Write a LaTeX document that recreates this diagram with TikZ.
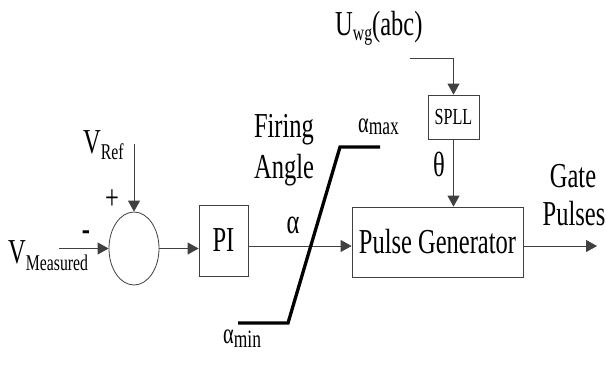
\documentclass[tikz,border=0pt]{standalone}
\usepackage{fontspec}
\setmainfont{Liberation Serif}[FakeStretch=0.70]
\usetikzlibrary{shapes.geometric,arrows.meta}
\newcommand\lsub[2][6]{\raisebox{-#1pt}{\fontsize{22.5}{24}\selectfont #2}}
\newcommand\bigtxt{\fontsize{35}{38}\selectfont}
\begin{document}
\begin{tikzpicture}[x=1pt,y=-1pt,
  every node/.style={font=\bigtxt, inner sep=0pt},
  blk/.style={draw=black!75, line width=0.8pt, rectangle},
  conn/.style={draw=black!75, line width=0.8pt},
  arr/.style={conn, -{Triangle[length=11pt,width=12pt]}},
  satline/.style={draw=black, line width=3.3pt}]
\useasboundingbox (0,0) rectangle (607,367);
% blocks
\node[ellipse, draw=black!75, line width=0.8pt, minimum width=50pt, minimum height=73pt] (sum) at (134,248.5) {};
\node[blk, minimum width=49pt, minimum height=71pt] (PI) at (223.5,240.5) {PI};
\node[blk, minimum width=171pt, minimum height=70pt] (PG) at (437.5,242) {Pulse Generator};
\node[blk, minimum width=51pt, minimum height=44pt] (SPLL) at (453.5,117) {\fontsize{23}{24}\selectfont SPLL};
% free ends
\coordinate (meas) at (59,248.5);
\coordinate (vref) at (134,144);
\coordinate (uin) at (410,58);
\coordinate (out) at (597,246);
% connectors
\draw[arr] (meas) -- (sum.west);
\draw[arr] (vref) -- (sum.north);
\draw[arr] (sum.east) -- (sum.east -| PI.west);
\draw[arr] (PI.east |- 0,246) -- (PG.west |- 0,246);
\draw[arr] (PG.east |- out) -- (out);
\draw[arr] (uin) -| (SPLL.north);
\draw[arr] (SPLL.south) -- (SPLL.south |- PG.north);
% saturation
\draw[satline] (238,323) -- (288,323) -- (340,147) -- (380,147);
% labels
\node[anchor=base west] (lref) at (83,153) {V\lsub{Ref}};
\node[anchor=base west] (lmeas) at (8,263) {V\lsub[7]{Measured}};
\node (lplus) at (112,200) {+};
\node[font=\bfseries\bigtxt] (lminus) at (86,236) {-};
\node[anchor=base] (lalpha) at (293,233) {α};
\node[anchor=base] (lfiring) at (284,137) {Firing};
\node[anchor=base] (langle) at (284,178) {Angle};
\node[anchor=base west, font=\fontsize{29}{30}\selectfont] (lamax) at (358,132) {α\raisebox{-2pt}{\fontsize{25}{26}\selectfont max}};
\node[anchor=base west, font=\fontsize{29}{30}\selectfont] (lamin) at (223,343) {α\raisebox{-4pt}{\fontsize{25}{26}\selectfont min}};
\node[anchor=base west] (luwg) at (335,35) {U\lsub[5]{wg}(abc)};
\node (ltheta) at (439,164.5) {θ};
\node[anchor=base] (lgate) at (573,187) {Gate};
\node[anchor=base] (lpulses) at (574,225) {Pulses};
\end{tikzpicture}
\end{document}
